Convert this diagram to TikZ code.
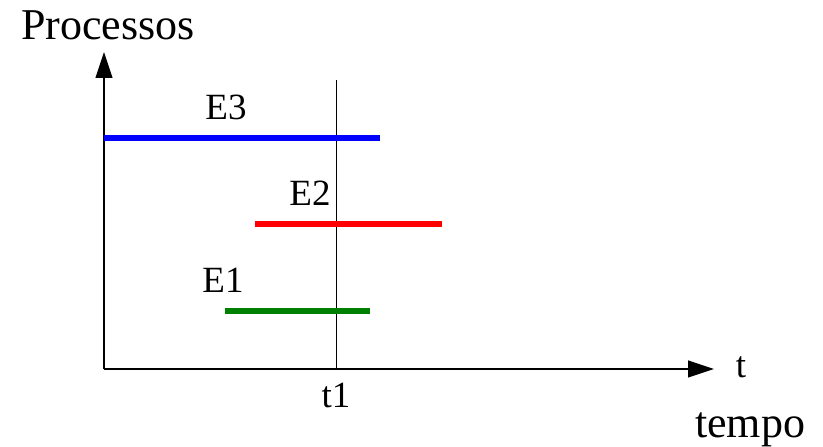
\documentclass[tikz,border=0pt]{standalone}
\usepackage{fontspec}
\setmainfont{Liberation Serif}
\usetikzlibrary{positioning, arrows.meta}

\begin{document}
\begin{tikzpicture}[
    x=1pt, y=1pt, >={Triangle[length=26pt, width=17pt]},
    eixo/.style={line width=1.2pt},
    barra/.style={line width=6pt},
    rotulo/.style={inner sep=0pt, anchor=base, font=\fontsize{37}{40}\selectfont},
    titulo/.style={inner sep=0pt, anchor=base, font=\fontsize{44}{48}\selectfont}
]
    \useasboundingbox (0,0) rectangle (823,447);

    \coordinate (O) at (104,78);
    \coordinate (ytip) at (104,395);
    \coordinate (xtip) at (714,78);
    \coordinate (t1top) at (336,367);
    \coordinate (t1bot) at (336,78);

    \node[titulo] (proc) at (108,407) {Processos};
    \node[titulo] (tempo) at (750,9) {tempo};
    \node[rotulo] (t) at (741,69) {t};
    \node[rotulo] (t1) at (336,39) {t1};

    % eixos
    \draw[eixo, ->] (O) -- (ytip);
    \draw[eixo, ->] (O) -- (xtip);
    \draw[line width=0.8pt] (t1bot) -- (t1top);

    % eventos
    \coordinate (e3a) at (104,309);
    \coordinate (e3b) at (380,309);
    \coordinate (e2a) at (255,223);
    \coordinate (e2b) at (442,223);
    \coordinate (e1a) at (225,136);
    \coordinate (e1b) at (370,136);

    \draw[barra, color={rgb,255:red,0;green,0;blue,255}] (e3a) -- (e3b);
    \draw[barra, color={rgb,255:red,255;green,0;blue,0}] (e2a) -- (e2b);
    \draw[barra, color={rgb,255:red,0;green,128;blue,0}] (e1a) -- (e1b);

    \node[rotulo] (E3) at (226,327) {E3};
    \node[rotulo] (E2) at (310,241) {E2};
    \node[rotulo] (E1) at (223,154) {E1};
\end{tikzpicture}
\end{document}
